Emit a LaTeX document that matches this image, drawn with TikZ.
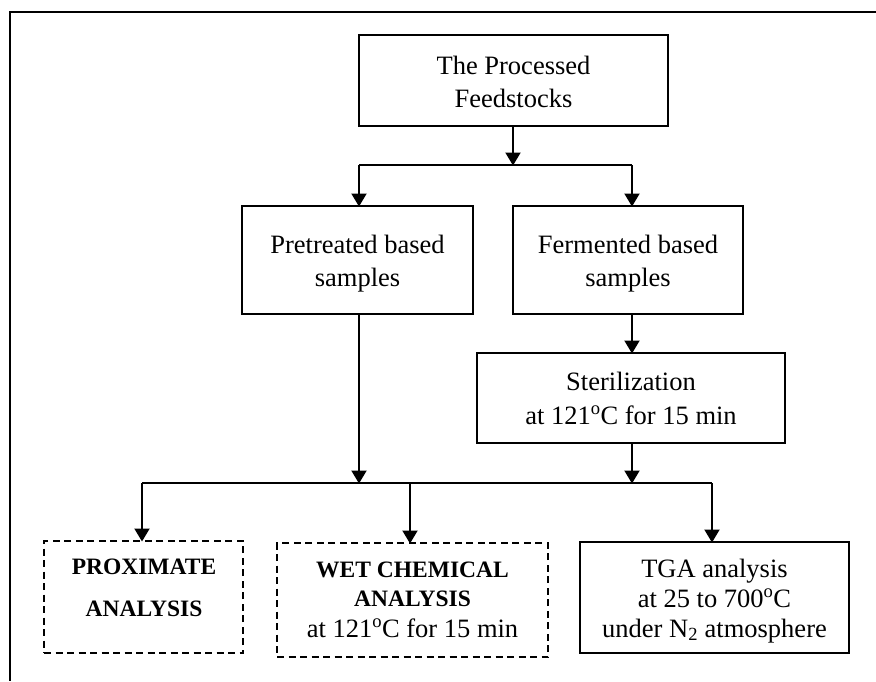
\documentclass[tikz,border=0pt]{standalone}
\usepackage{fontspec}
\setmainfont{Liberation Serif}
\usetikzlibrary{arrows.meta}

\begin{document}
\begin{tikzpicture}[x=1pt,y=-1pt,
  box/.style={draw, line width=1.8pt, inner sep=0pt, outer sep=0pt},
  dbox/.style={box, dash pattern=on 7pt off 4.5pt},
  txt/.style={inner sep=0pt, align=center, anchor=base,
    font=\fontsize{26.5}{33}\selectfont},
  btxt/.style={inner sep=0pt, align=center, anchor=base,
    font=\fontsize{23.5}{29}\selectfont\bfseries},
  link/.style={line width=2pt},
  flow/.style={link, -{Triangle[width=15pt,length=13pt]}, shorten >=-0.5pt}]

\useasboundingbox (0,0) rectangle (876,681);
% open frame: top and left edges
\draw[line width=2.2pt] (876,12) -- (10,12) -- (10,681);

% boxes
\node[box,  minimum width=309pt, minimum height=91pt]  (top)  at (513.5,80.5) {};
\node[box,  minimum width=231pt, minimum height=108pt] (pre)  at (357.5,260) {};
\node[box,  minimum width=230pt, minimum height=108pt] (fer)  at (628,260) {};
\node[box,  minimum width=308pt, minimum height=90pt]  (ster) at (631,398) {};
\node[dbox, minimum width=199pt, minimum height=112pt] (prox) at (143.5,597) {};
\node[dbox, minimum width=271pt, minimum height=114pt] (wet)  at (412.5,600) {};
\node[box,  minimum width=269pt, minimum height=111pt] (tga)  at (714.5,597.5) {};

% box texts (anchored on the baseline of the last line)
\node[txt] (ttop)  at (513.5,107) {The Processed\\Feedstocks};
\node[txt] (tpre)  at (357.5,286) {Pretreated based\\samples};
\node[txt] (tfer)  at (628,286) {Fermented based\\samples};
\node[txt, font=\fontsize{26.5}{34}\selectfont] (tster) at (631,424)
  {Sterilization\\at 121\textsuperscript{o}C for 15 min};
\node[btxt, font=\fontsize{23.5}{42}\selectfont\bfseries] (tprox) at (144,616)
  {PROXIMATE\\ANALYSIS};
\node[btxt] (twet) at (412.5,637)
  {WET CHEMICAL\\ANALYSIS\\[2pt]{\mdseries\fontsize{26.5}{29}\selectfont at 121\textsuperscript{o}C for 15 min}};
\node[txt, font=\fontsize{26.5}{30}\selectfont] (ttga) at (714.5,637)
  {TGA analysis\\at 25 to 700\textsuperscript{o}C\\under N\textsubscript{2} atmosphere};

% junction points
\coordinate (s1)  at (513,165);
\coordinate (s1l) at (359,165);
\coordinate (s1r) at (632,165);
\coordinate (m1)  at (359,483);
\coordinate (m2)  at (632,483);
\coordinate (b1)  at (142,483);
\coordinate (b2)  at (410,483);
\coordinate (b3)  at (712,483);

% first split
\draw[flow] (top.south -| s1) -- (s1);
\draw[link] (s1l) -- (s1r);
\draw[flow] (s1l) -- (s1l |- pre.north);
\draw[flow] (s1r) -- (s1r |- fer.north);

% fermented branch
\draw[flow] (fer.south -| s1r) -- (s1r |- ster.north);
\draw[flow] (ster.south -| m2) -- (m2);

% pretreated branch
\draw[flow] (pre.south -| m1) -- (m1);

% second split
\draw[link] (b1) -- (b3);
\draw[flow] (b1) -- (b1 |- prox.north);
\draw[flow] (b2) -- (b2 |- wet.north);
\draw[flow] (b3) -- (b3 |- tga.north);
\end{tikzpicture}
\end{document}
